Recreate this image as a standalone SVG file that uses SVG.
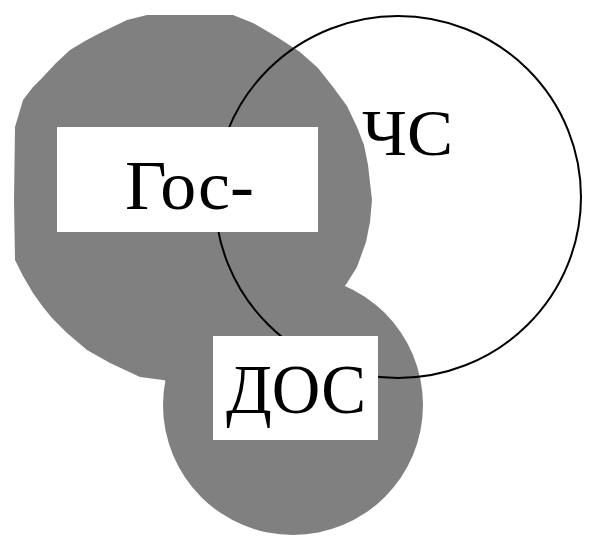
<svg xmlns="http://www.w3.org/2000/svg" width="590" height="538" viewBox="0 0 590 538">
<style>
.blob{fill:#808080;stroke:none}
.ring{fill:none;stroke:#000;stroke-width:2}
.box{fill:#fff;stroke:none}
.lbl{font-family:"Liberation Serif","Times New Roman",serif;fill:#000}
</style>
<rect x="0" y="0" width="590" height="538" fill="#fff"/>
<g id="gray-area">
<polygon class="blob" points="147,15 233,15 253,23 277,37 300,52 318,68 333,87 347,106 357,127 364,145 368,165 372,200 370,222 366,242 357,267 347,283 320,320 290,350 250,372 193,386 163,380 140,377 110,363 87,350 67,333 52,318 43,307 33,293 23,276 15,260 14,200 15,127 23,100 33,87 43,77 56,63 70,50 85,41 100,33 127,20"/>
<circle class="blob" cx="293" cy="405" r="130"/>
</g>
<g id="connectors">
<ellipse class="ring" cx="398" cy="197" rx="183" ry="181"/>
</g>
<g id="node-gos">
<rect class="box" x="57" y="127" width="261" height="105"/>
<text class="lbl" x="125" y="209" font-size="70" textLength="129" lengthAdjust="spacingAndGlyphs">Гос-</text>
</g>
<g id="node-dos">
<rect class="box" x="213" y="336" width="165" height="104"/>
<text class="lbl" x="226" y="413" font-size="70" textLength="140" lengthAdjust="spacingAndGlyphs">ДОС</text>
</g>
<g id="node-chs">
<text class="lbl" x="362" y="155" font-size="66" textLength="91" lengthAdjust="spacingAndGlyphs">ЧС</text>
</g>
</svg>
